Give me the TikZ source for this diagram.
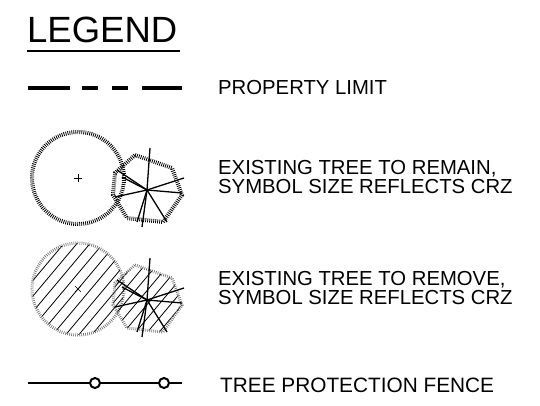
\documentclass[tikz,border=0pt]{standalone}
\usepackage{fontspec}
\setmainfont{Liberation Sans}
\tikzset{
  crz/.style={line width=4pt, dash pattern=on 0.8pt off 1.2pt},
  crzgone/.style={line width=3pt, black!55, dash pattern=on 0.7pt off 1.3pt},
  txt/.style={anchor=base west, inner sep=0pt, align=left, font=\fontsize{20.3}{19.5}\selectfont},
  post/.style={circle, draw, fill=white, line width=2pt, inner sep=0pt, minimum size=10pt},
}

\begin{document}
\begin{tikzpicture}[x=1pt,y=-1pt]
	\useasboundingbox (0,0) rectangle (540,406);
	\node[anchor=base west, inner sep=0pt, font=\fontsize{36.5}{40}\selectfont] (title) at (27,43) {LEGEND};
	\draw[line width=1.6pt] (27,51) -- (180,51);

	% property limit
	\draw[line width=4.5pt, dash pattern=on 42pt off 12pt on 16pt off 14pt on 16pt off 14pt on 40pt off 10pt] (28,88) -- (182,88);
	\node[txt] (limit) at (218,95) {PROPERTY LIMIT};

	% tree to remain
	\draw[crz] (78,178) circle (46pt);
	\draw (74,178) -- (82,178) (78,174) -- (78,182);
	\begin{scope}[shift={(147,190)}]
		\draw[crz] (-12,-35) -- (25,-22) -- (35,5) -- (16,32) -- (-20,28) -- (-34,5) -- (-32,-17) -- cycle;
		\foreach \p in {(3,-42),(-5,37),(-10,32),(-30,-20),(-25,-13),(-32,7),(37,-12),(35,3),(20,32)}
			\draw[line width=1.3pt] (0,0) -- \p;
	\end{scope}
	\node[txt] (remain) at (218,193.5) {EXISTING TREE TO REMAIN,\\SYMBOL SIZE REFLECTS CRZ};

	% tree to remove
	\begin{scope}[shift={(78,289)}]
		\clip (0,0) circle (46pt);
		\begin{scope}[rotate=50]
			\foreach \i in {-4,...,4}
				\draw[thick] (-50,\i*10) -- (50,\i*10);
		\end{scope}
	\end{scope}
	\draw[crzgone] (78,289) circle (46pt);
	\draw (75,286) -- (81,292) (81,286) -- (75,292);
	\begin{scope}[shift={(147,300)}]
		\begin{scope}
			\clip (-12,-35) -- (25,-22) -- (35,5) -- (16,32) -- (-20,28) -- (-34,5) -- (-32,-17) -- cycle;
			\begin{scope}[rotate=50]
				\foreach \i in {-4,...,4}
					\draw[thick] (-45,\i*9+3) -- (45,\i*9+3);
			\end{scope}
		\end{scope}
		\draw[crzgone] (-12,-35) -- (25,-22) -- (35,5) -- (16,32) -- (-20,28) -- (-34,5) -- (-32,-17) -- cycle;
		\foreach \p in {(3,-42),(-5,37),(-10,32),(-30,-20),(-25,-13),(-32,7),(37,-12),(35,3),(20,32)}
			\draw[line width=1.3pt] (0,0) -- \p;
	\end{scope}
	\node[txt] (remove) at (218,304.5) {EXISTING TREE TO REMOVE,\\SYMBOL SIZE REFLECTS CRZ};

	% fence
	\coordinate (fa) at (28,383);
	\coordinate (fb) at (182,383);
	\node[post] (pa) at (95,383) {};
	\node[post] (pb) at (164,383) {};
	\draw[line width=2pt] (fa) -- (pa) -- (pb) -- (fb);
	\node[txt, font=\fontsize{20.8}{20}\selectfont] (fence) at (220,392) {TREE PROTECTION FENCE};
\end{tikzpicture}
\end{document}
